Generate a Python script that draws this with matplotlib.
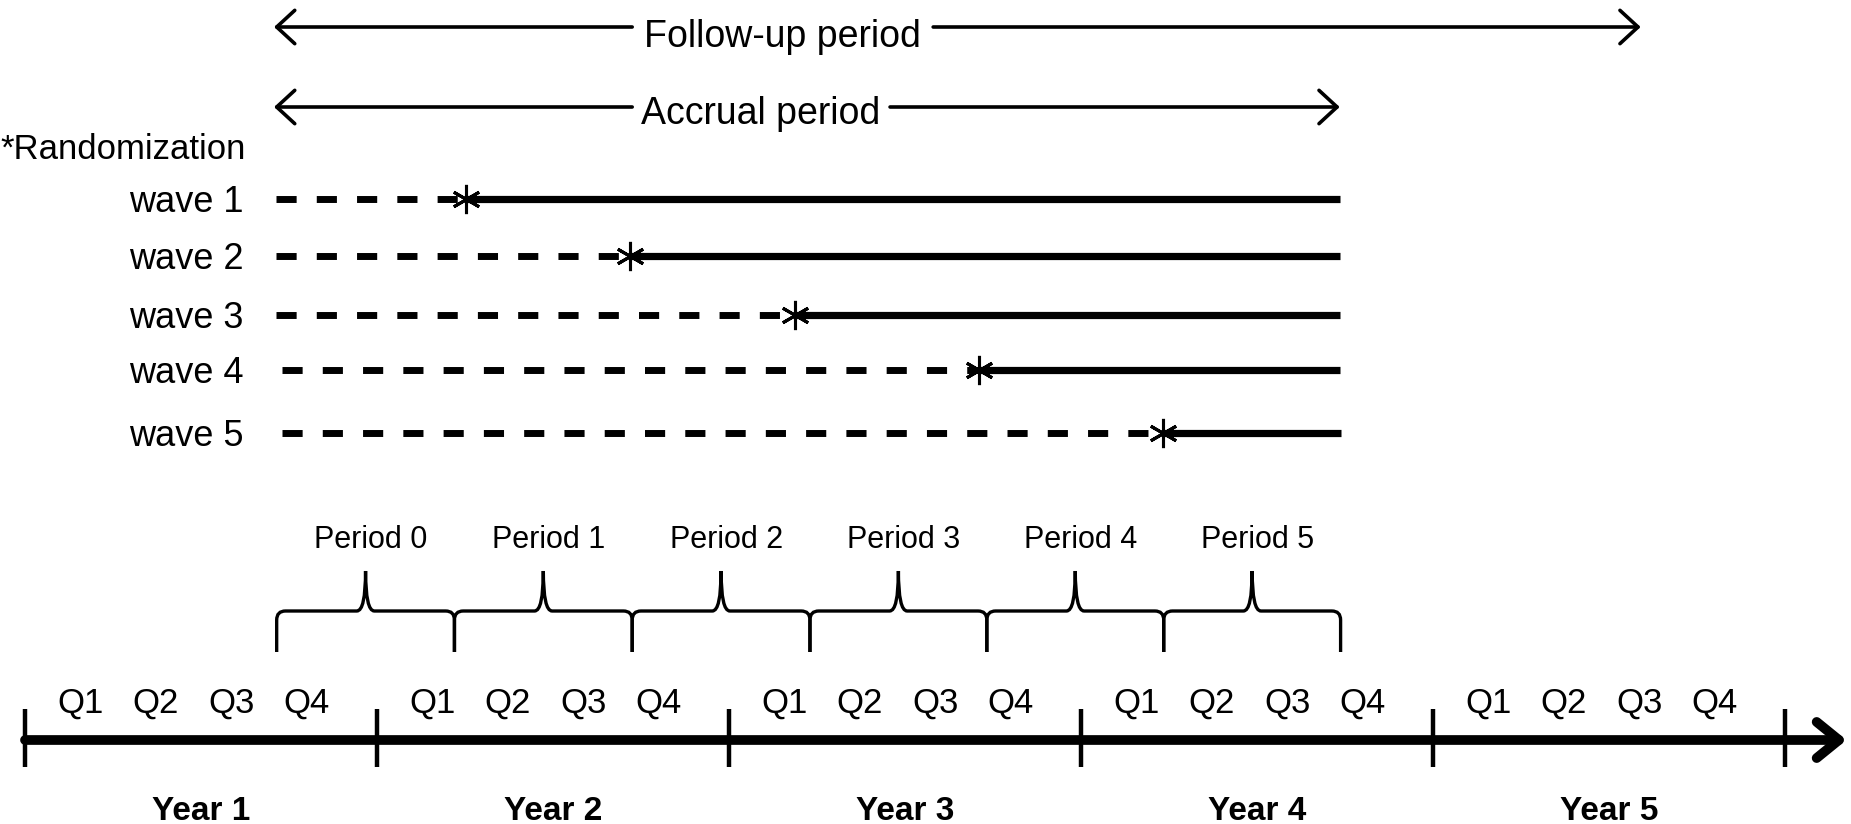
import numpy as np
import matplotlib
matplotlib.use("Agg")
from matplotlib import pyplot as plt
from matplotlib.path import Path
from matplotlib.patches import PathPatch

# timeline is measured in quarters from the start of year 1
years = ["Year 1", "Year 2", "Year 3", "Year 4", "Year 5"]
quarters = ["Q1", "Q2", "Q3", "Q4"]
periods = ["Period 0", "Period 1", "Period 2", "Period 3", "Period 4", "Period 5"]
period_edges = [2.86, 4.88, 6.9, 8.92, 10.93, 12.94, 14.95]
waves = ["wave 1", "wave 2", "wave 3", "wave 4", "wave 5"]
wave_start = [2.85, 2.85, 2.85, 2.92, 2.92]
wave_rand = [5.01, 6.88, 8.75, 10.84, 12.93]
wave_end = [14.94, 14.94, 14.94, 14.94, 14.96]
followup = (2.83, 18.36)
accrual = (2.83, 14.94)

plt.rcParams['font.family'] = ['Liberation Sans', 'DejaVu Sans']

fig = plt.figure(figsize=(18.51, 8.24), dpi=100)
ax = fig.add_axes([0, 0, 1, 1])
ax.set_xlim(-25 / 88, (1851 - 25) / 88)
ax.set_ylim(824, 0)
ax.axis("off")

# top arrows with text in the gap
def period_arrow(span, y, label, gap, ybase):
    ax.annotate("", xy=(span[0], y), xytext=(gap[0], y),
                arrowprops=dict(arrowstyle="->,head_length=1.3,head_width=1.2", lw=2.6,
                                color="black", shrinkA=0, shrinkB=0))
    ax.annotate("", xy=(span[1], y), xytext=(gap[1], y),
                arrowprops=dict(arrowstyle="->,head_length=1.3,head_width=1.2", lw=2.6,
                                color="black", shrinkA=0, shrinkB=0))
    ax.text((gap[0] + gap[1]) / 2, ybase, label, fontsize=27, ha="center", va="baseline")

period_arrow(followup, 27, "Follow-up period", (6.9, 10.32), 47)
period_arrow(accrual, 107, "Accrual period", (6.9, 9.83), 124)

ax.text(-0.28, 159, "*Randomization", fontsize=25, ha="left", va="baseline")

# waves
wave_y = [199, 256, 315, 370, 433]
for i in range(len(waves)):
    y = wave_y[i]
    ax.text(2.48, y + 13, waves[i], fontsize=26, ha="right", va="baseline")
    ax.plot([wave_start[i], wave_rand[i]], [y, y], color="black", lw=5,
            linestyle=(0, (2.9, 2.9)), solid_capstyle="butt", dash_capstyle="butt")
    ax.plot([wave_rand[i], wave_end[i]], [y, y], color="black", lw=5.2,
            solid_capstyle="butt")
    ax.plot(wave_rand[i], y, marker=(6, 2, 0), markersize=21, mew=2.2, color="black")

# braces over the periods
bottom, bar, peak = 652, 611, 571
rx, ry = 0.1, 9
for k in range(len(periods)):
    a, b = period_edges[k], period_edges[k + 1]
    m = (a + b) / 2
    verts = [(a, bottom), (a, bar + ry), (a, bar), (a + rx, bar),
             (m - rx, bar), (m, bar), (m, peak),
             (m, bar), (m + rx, bar),
             (b - rx, bar), (b, bar), (b, bar + ry), (b, bottom)]
    codes = [Path.MOVETO, Path.LINETO, Path.CURVE3, Path.CURVE3,
             Path.LINETO, Path.CURVE3, Path.CURVE3,
             Path.CURVE3, Path.CURVE3,
             Path.LINETO, Path.CURVE3, Path.CURVE3, Path.LINETO]
    ax.add_patch(PathPatch(Path(verts, codes), fill=False, lw=2.4, edgecolor="black"))
    ax.text(m + 0.06, 548, periods[k], fontsize=22, ha="center", va="baseline")

# year axis
axis_y = 740
ax.annotate("", xy=(20.7, axis_y), xytext=(0, axis_y),
            arrowprops=dict(arrowstyle="->,head_length=1.6,head_width=1.3", lw=7,
                            color="black", shrinkA=0, shrinkB=0))
for j in range(len(years) + 1):
    ax.plot([4 * j, 4 * j], [709, 767], color="black", lw=3.2, solid_capstyle="butt")
for j in range(len(years)):
    for k in range(len(quarters)):
        ax.text(4 * j + 0.63 + 0.857 * k, 713, quarters[k], fontsize=25,
                ha="center", va="baseline")
    ax.text(4 * j + 2, 820, years[j], fontsize=24, fontweight="bold",
            ha="center", va="baseline")

fig.savefig("out.png", dpi=100)
